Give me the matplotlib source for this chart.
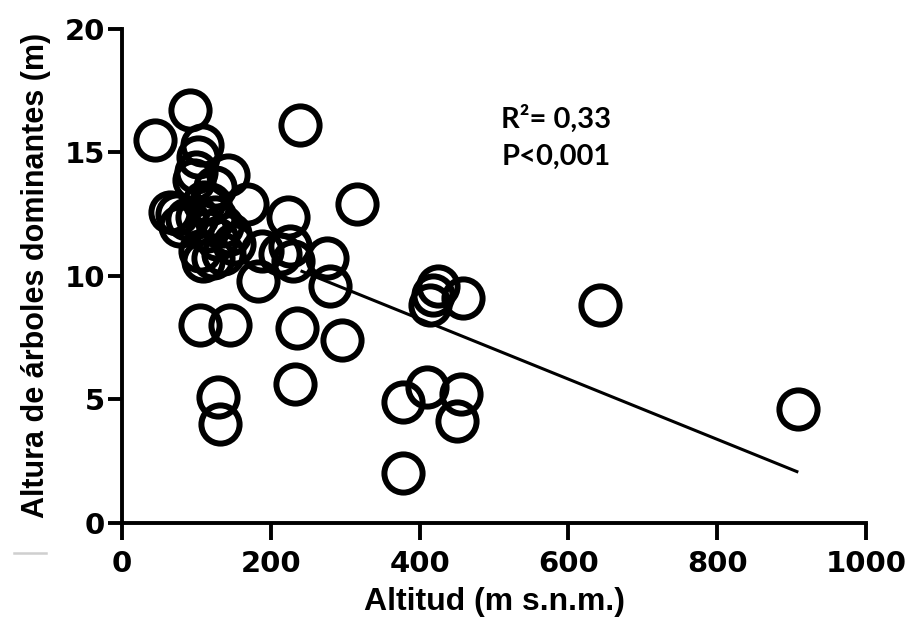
import matplotlib
matplotlib.use("Agg")
import matplotlib.pyplot as plt
from matplotlib.lines import Line2D
import numpy as np

# Altitude (m a.s.l.) and dominant tree height (m) per plot
altitud = [
    45, 91, 107, 102, 100, 142, 97, 125, 168, 223, 316, 239,
    65, 74, 78, 88, 101, 110, 118, 114, 125, 135, 145, 150,
    105, 109, 122, 136, 128,
    188, 212, 226, 230, 275, 280, 183,
    105, 145, 235, 296, 129, 132, 233,
    378, 378, 410, 455, 450,
    414, 418, 425, 459, 643, 909,
]
altura = [
    15.5, 16.7, 15.3, 14.8, 14.2, 14.1, 13.9, 13.6, 12.9, 12.4, 12.9, 16.1,
    12.6, 12.5, 12.0, 12.3, 12.4, 13.0, 12.9, 11.8, 12.4, 12.0, 11.7, 11.3,
    11.0, 10.6, 10.7, 10.9, 11.5,
    11.0, 10.9, 11.2, 10.6, 10.7, 9.6, 9.8,
    8.0, 8.0, 7.9, 7.4, 5.1, 4.0, 5.6,
    2.0, 4.9, 5.5, 5.2, 4.1,
    8.8, 9.2, 9.6, 9.1, 8.8, 4.6,
]

# Fitted regression line
pendiente = -0.0122
intercepto = 13.13
recta_x = [240, 909]

x_ticks = [0, 200, 400, 600, 800, 1000]
y_ticks = [0, 5, 10, 15, 20]

fig = plt.figure(figsize=(9.07, 6.38), dpi=100)
ax = fig.add_axes([122 / 907, 1 - 522.5 / 638, (866 - 122) / 907, (522.5 - 29) / 638])

rx = np.array(recta_x, dtype=float)
ax.plot(rx, intercepto + pendiente * rx, color="black", lw=2.2, solid_capstyle="butt", zorder=2)

ax.plot(altitud, altura, linestyle="none", marker="o", ms=27.5,
        markerfacecolor="none", markeredgecolor="black", markeredgewidth=4.3, zorder=3,
        clip_on=False)

ax.set_xlim(0, 1000)
ax.set_ylim(0, 20)
ax.set_xticks(x_ticks)
ax.set_yticks(y_ticks)

for side in ("top", "right"):
    ax.spines[side].set_visible(False)
for side in ("left", "bottom"):
    ax.spines[side].set_linewidth(2.8)
    ax.spines[side].set_capstyle("projecting")

ax.tick_params(axis="x", length=12, width=2.8, pad=8, direction="out")
ax.tick_params(axis="y", length=10, width=2.8, pad=2, direction="out")
for lab in ax.get_xticklabels() + ax.get_yticklabels():
    lab.set_fontfamily("DejaVu Sans")
    lab.set_fontweight("bold")
    lab.set_fontsize(21)

ax.set_xlabel("Altitud (m s.n.m.)", fontfamily="Liberation Sans", fontweight="bold",
              fontsize=23, labelpad=6)
ax.set_ylabel("Altura de árboles dominantes (m)", fontfamily="Liberation Sans",
              fontweight="bold", fontsize=22, labelpad=10)

ax.text(0.51, 0.80, "R²= 0,33", transform=ax.transAxes, fontfamily="Lato",
        fontweight="bold", fontsize=21, va="baseline", ha="left")
ax.text(0.51, 0.724, "P<0,001", transform=ax.transAxes, fontfamily="Lato",
        fontweight="bold", fontsize=21, va="baseline", ha="left")

# faint grey dash at the lower left corner
fig.add_artist(Line2D([14 / 907, 46 / 907], [1 - 553 / 638, 1 - 553 / 638],
                      color="#cfcfcf", lw=1.8, transform=fig.transFigure))

fig.savefig("out.png", dpi=100)
